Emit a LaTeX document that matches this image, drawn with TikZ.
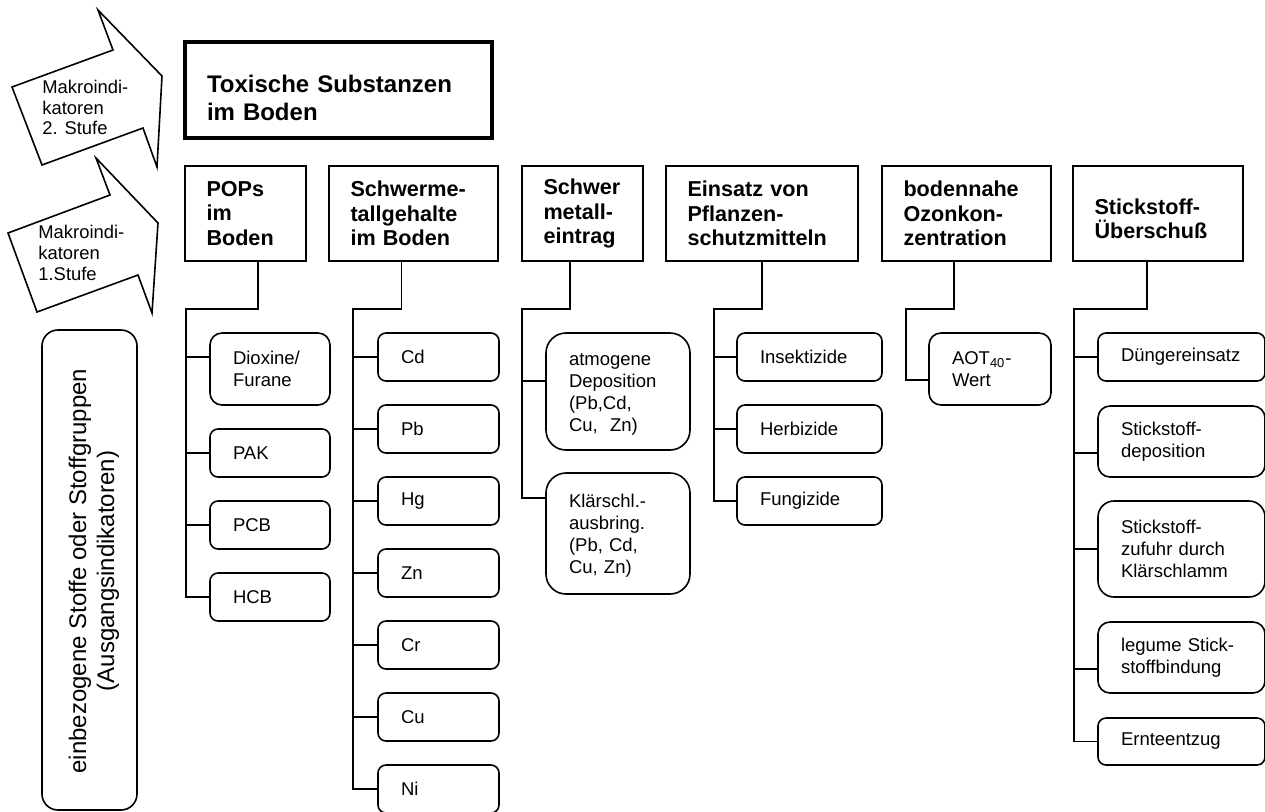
\documentclass[tikz,border=0pt]{standalone}
\usepackage{fontspec}
\setmainfont{Liberation Sans}
\usepackage{tikz}
\hyphenpenalty=10000
\exhyphenpenalty=10000
\tikzset{
  kopf/.style={draw, line width=1pt, minimum height=47.5pt, inner xsep=10.75pt, align=left,
    font=\fontsize{10.8}{12.25}\selectfont\bfseries},
  stoff/.style={draw, line width=0.8pt, rounded corners=4pt, inner xsep=11.5pt, align=left,
    font=\fontsize{9.25}{11}\selectfont},
  linie/.style={line width=0.8pt},
  pfeil/.style={line width=0.8pt, line join=miter},
  stufe/.style={anchor=west, inner sep=0pt, align=left, font=\fontsize{9.2}{10.3}\selectfont}
}

\begin{document}
\begin{tikzpicture}[x=0.5pt, y=-0.5pt]
    \useasboundingbox (0,0) rectangle (1265,811);

    \draw[pfeil] (12,87) -- (113,50) -- (98,10) -- (162,76) -- (157,167) -- (143,128) -- (42,165) -- cycle;
    \node[stufe] (stufe2) at (42,107.5) {Makroindi-\\katoren\\2. Stufe};
    \draw[pfeil] (8,233) -- (110,195) -- (96,158) -- (158,223) -- (152,313) -- (138,275) -- (37,312) -- cycle;
    \node[stufe] (stufe1) at (38,253) {Makroindi-\\katoren\\1.Stufe};
    \draw[linie, rounded corners=8pt] (42,330) rectangle (137,810);
    \node[rotate=90, align=center, font=\fontsize{12}{14}\selectfont] (stoffe) at (94,571)
      {einbezogene Stoffe oder Stoffgruppen\\(Ausgangsindikatoren)};

    \node[kopf, line width=2pt, minimum height=48pt, inner xsep=11pt, text width=131.5pt,
      font=\fontsize{12}{14}\selectfont\bfseries] (toxisch) at (338.5,90)
      {\rule{0pt}{16.3pt}Toxische Substanzen\\im~Boden};

    \node[kopf, text width=39pt] (pops) at (245.5,213.5) {POPs\\im\\Boden};
    \node[kopf, text width=63pt] (smg) at (413.5,213.5) {Schwerme-\\tallgehalte\\im~Boden};
    \node[kopf, text width=39pt] (sme) at (582.5,213.5) {Schwer\\metall-\\eintrag};
    \node[kopf, text width=74.5pt] (psm) at (762,213.5) {Einsatz~von\\Pflanzen-\\schutzmitteln};
    \node[kopf, text width=63pt] (ozon) at (966.5,213.5) {bodennahe\\Ozonkon-\\zentration};
    \node[kopf, text width=63.5pt] (nue) at (1158,213.5) {\rule{0pt}{12.9pt}Stickstoff-\\Überschuß};

    \node[stoff, text width=37pt, minimum height=36pt, rounded corners=6pt] (dioxine) at (270,369) {Dioxine/\\Furane};
    \node[stoff, text width=37pt, minimum height=24pt] (pak) at (270,453) {PAK};
    \node[stoff, text width=37pt, minimum height=24pt] (pcb) at (270,525) {PCB};
    \node[stoff, text width=37pt, minimum height=24pt] (hcb) at (270,597) {HCB};

    \node[stoff, text width=37.5pt, minimum height=24pt] (cd) at (438.5,357) {Cd};
    \node[stoff, text width=37.5pt, minimum height=24pt] (pb) at (438.5,429) {Pb};
    \node[stoff, text width=37.5pt, minimum height=24pt] (hg) at (438.5,501) {Hg};
    \node[stoff, text width=37.5pt, minimum height=24pt] (zn) at (438.5,573) {Zn};
    \node[stoff, text width=37.5pt, minimum height=24pt] (cr) at (438.5,645) {Cr};
    \node[stoff, text width=37.5pt, minimum height=24pt] (cu) at (438.5,717) {Cu};
    \node[stoff, text width=37.5pt, minimum height=24pt] (ni) at (438.5,789) {Ni};

    \node[stoff, text width=49pt, minimum height=58.5pt, rounded corners=10pt] (atmogen) at (618,391.5)
      {\rule{0pt}{8.5pt}atmogene\\Deposition\\(Pb,Cd,\\Cu,~~Zn)};
    \node[stoff, text width=49pt, minimum height=60.5pt, rounded corners=10pt] (klaer) at (618,533.5)
      {\rule{0pt}{9pt}Klärschl.-\\ausbring.\\(Pb,~Cd,\\Cu,~Zn)};

    \node[stoff, text width=49.5pt, minimum height=24pt] (insekt) at (809.5,357) {Insektizide};
    \node[stoff, text width=49.5pt, minimum height=24pt] (herbi) at (809.5,429) {Herbizide};
    \node[stoff, text width=49.5pt, minimum height=24pt] (fungi) at (809.5,501) {Fungizide};

    \node[stoff, text width=38pt, minimum height=36pt, rounded corners=6pt] (aot) at (990,369)
      {AOT\textsubscript{40}-\\Wert};

    \node[stoff, text width=60.5pt, minimum height=24pt] (duenger) at (1181.5,357) {Düngereinsatz};
    \node[stoff, text width=60.5pt, minimum height=35.5pt, rounded corners=6pt] (ndepo) at (1181.5,441.5)
      {Stickstoff-\\deposition};
    \node[stoff, text width=60.5pt, minimum height=48pt, rounded corners=8pt] (nschlamm) at (1181.5,549)
      {Stickstoff-\\zufuhr~durch\\Klärschlamm};
    \node[stoff, text width=60.5pt, minimum height=35.5pt, rounded corners=6pt] (legum) at (1181.5,657.5)
      {legume~Stick-\\stoffbindung};
    \node[stoff, text width=60.5pt, minimum height=23.5pt] (ernte) at (1181.5,741.5) {Ernteentzug};

    \coordinate (k1) at (186,309);
    \coordinate (k2) at (353,309);
    \coordinate (k3) at (522,309);
    \coordinate (k4) at (714,309);
    \coordinate (k5) at (906,309);
    \coordinate (k6) at (1074,309);

    \draw[linie] ([xshift=6.25pt]pops.south) |- (k1) |- (hcb.west);
    \coordinate (s1) at ([yshift=6pt]dioxine.west);
    \draw[linie] (k1 |- s1) -- (s1);
    \foreach \n in {pak,pcb}
      \draw[linie] (k1 |- \n.west) -- (\n.west);

    \draw[linie] ([xshift=-6pt]smg.south) |- (k2) |- (ni.west);
    \foreach \n in {cd,pb,hg,zn,cr,cu}
      \draw[linie] (k2 |- \n.west) -- (\n.west);

    \coordinate (s2) at ([yshift=5.25pt]atmogen.west);
    \coordinate (s3) at ([yshift=17.75pt]klaer.west);
    \draw[linie] ([xshift=-6.25pt]sme.south) |- (k3) |- (s3);
    \draw[linie] (k3 |- s2) -- (s2);

    \draw[linie] (psm.south) |- (k4) |- (fungi.west);
    \foreach \n in {insekt,herbi}
      \draw[linie] (k4 |- \n.west) -- (\n.west);

    \coordinate (s4) at ([yshift=-5.5pt]aot.west);
    \draw[linie] ([xshift=-6.25pt]ozon.south) |- (k5) |- (s4);

    \coordinate (s5) at ([yshift=-5.75pt]ndepo.west);
    \coordinate (s6) at ([yshift=-5.75pt]legum.west);
    \draw[linie] ([xshift=-5.5pt]nue.south) |- (k6) |- (ernte.west);
    \foreach \n in {duenger,nschlamm}
      \draw[linie] (k6 |- \n.west) -- (\n.west);
    \draw[linie] (k6 |- s5) -- (s5);
    \draw[linie] (k6 |- s6) -- (s6);
\end{tikzpicture}
\end{document}
